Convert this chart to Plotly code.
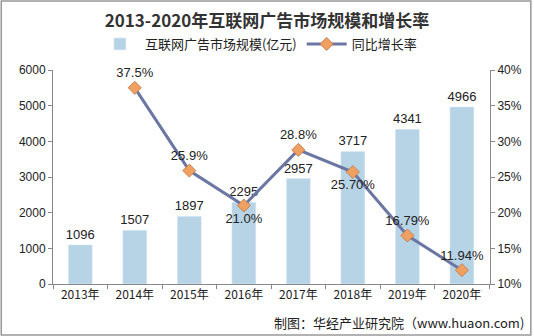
import plotly.graph_objects as go

years = ["2013年", "2014年", "2015年", "2016年", "2017年", "2018年", "2019年", "2020年"]
market = [1096, 1507, 1897, 2295, 2957, 3717, 4341, 4966]
growth_years = ["2014年", "2015年", "2016年", "2017年", "2018年", "2019年", "2020年"]
growth = [37.5, 25.9, 21.0, 28.8, 25.70, 16.79, 11.94]
growth_text = ["37.5%", "25.9%", "21.0%", "28.8%", "25.70%", "16.79%", "11.94%"]
growth_pos = ["top center", "top center", "bottom center", "top center", "bottom center", "top center", "top center"]

W, H = 534, 336
L, R, T, B = 53, 42, 70, 52
pw, ph = W - L - R, H - T - B

def px_x(p):
    return (p - L) / pw

def px_y(p):
    return (H - B - p) / ph

fig = go.Figure()
fig.add_trace(go.Bar(
    x=years, y=market, name="互联网广告市场规模(亿元)",
    marker=dict(color="#B7D3E6"), width=0.44,
    text=[str(v) for v in market], textposition="outside", constraintext="none",
    textfont=dict(size=13, color="#222", family="Liberation Sans"),
    cliponaxis=False,
))
fig.add_trace(go.Scatter(
    x=growth_years, y=growth, name="同比增长率", yaxis="y2",
    mode="lines+markers+text",
    line=dict(color="#6B76A3", width=3),
    marker=dict(symbol="diamond", size=10, color="#F0A060", line=dict(color="#C88050", width=1)),
    text=growth_text, textposition=growth_pos,
    textfont=dict(size=13, color="#222", family="Liberation Sans"),
    cliponaxis=False,
))

fig.update_layout(
    width=W, height=H,
    margin=dict(l=L, r=R, t=T, b=B),
    paper_bgcolor="white", plot_bgcolor="white",
    font=dict(family="Noto Sans CJK SC", size=12, color="#222"),
    title=dict(text="<b>2013-2020年互联网广告市场规模和增长率</b>", x=0.5, xanchor="center",
               y=1 - 21 / H, yanchor="middle",
               font=dict(size=17, color="#333", family="Noto Sans CJK SC")),
    legend=dict(orientation="h", x=0.47, xanchor="center", y=px_y(44), yanchor="middle",
                font=dict(size=13, color="#222", family="Noto Sans CJK SC"),
                itemwidth=40, tracegroupgap=0, bgcolor="rgba(0,0,0,0)"),
    xaxis=dict(showline=True, linecolor="#888", ticks="outside", tickson="boundaries",
               ticklen=4, tickcolor="#888",
               tickfont=dict(size=12, family="Noto Sans CJK SC", color="#222")),
    yaxis=dict(range=[0, 6000], dtick=1000, showline=True, linecolor="#888",
               ticks="outside", ticklen=4, tickcolor="#888", showgrid=False, zeroline=False,
               tickfont=dict(size=12, family="Liberation Sans", color="#222")),
    yaxis2=dict(range=[10, 40], dtick=5, overlaying="y", side="right", showline=True,
                linecolor="#888", ticks="outside", ticklen=4, tickcolor="#888",
                showgrid=False, zeroline=False, ticksuffix="%",
                tickfont=dict(size=12, family="Liberation Sans", color="#222")),
    shapes=[dict(type="rect", xref="paper", yref="paper",
                 x0=px_x(1), x1=px_x(533), y0=px_y(335), y1=px_y(1),
                 line=dict(color="#999", width=1.5), fillcolor="rgba(0,0,0,0)", layer="below")],
    annotations=[dict(text="制图：华经产业研究院（www.huaon.com)", xref="paper", yref="paper",
                      x=px_x(528), y=px_y(322), xanchor="right", yanchor="middle",
                      showarrow=False, font=dict(size=13, color="#222", family="Noto Sans CJK SC"))],
)

fig.write_html("out.html")
